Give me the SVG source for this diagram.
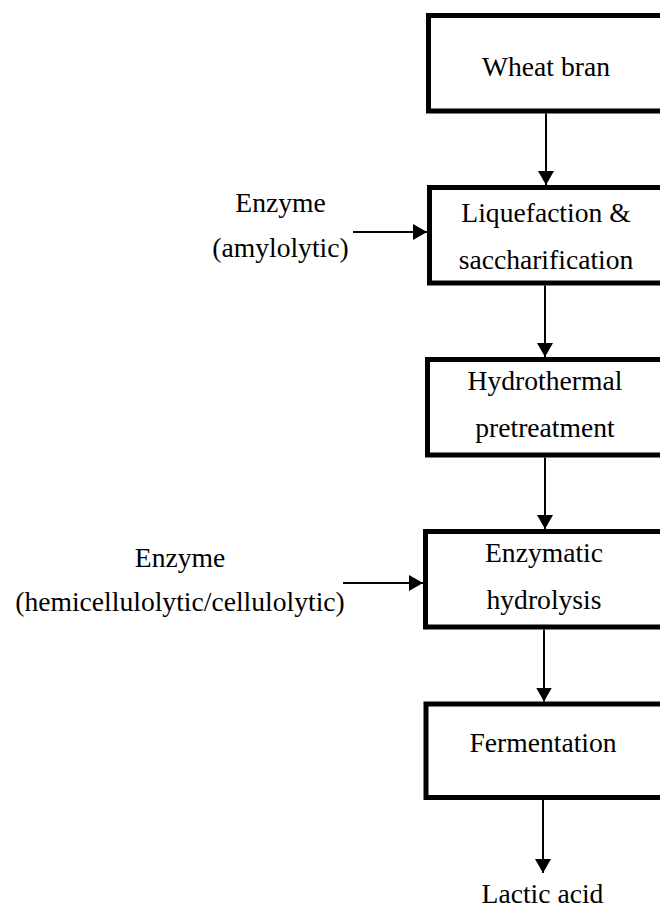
<svg xmlns="http://www.w3.org/2000/svg" width="660" height="909" viewBox="0 0 660 909">
  <style>
    .box { fill: #ffffff; stroke: #000000; stroke-width: 5; }
    .lbl { font-family: "Liberation Serif", "Times New Roman", serif; font-size: 27.6px; fill: #000000; text-anchor: middle; }
    .conn { stroke: #000000; stroke-width: 2; fill: none; marker-end: url(#arrow); }
  </style>
  <defs>
    <marker id="arrow" markerUnits="userSpaceOnUse" markerWidth="14" markerHeight="16" refX="14" refY="8" orient="auto">
      <path d="M0,0 L14,8 L0,16 Z" fill="#000000"/>
    </marker>
  </defs>
  <rect width="660" height="909" fill="#ffffff"/>

  <!-- process steps (boxes run past the right edge) -->
  <g id="wheat-bran">
    <rect class="box" x="428.5" y="15.5" width="300" height="95.5"/>
    <text class="lbl" x="546" y="76">Wheat bran</text>
  </g>
  <g id="liquefaction">
    <rect class="box" x="429.5" y="187.5" width="300" height="95.5"/>
    <text class="lbl" x="546" y="222">Liquefaction &amp;</text>
    <text class="lbl" x="546" y="269">saccharification</text>
  </g>
  <g id="pretreatment">
    <rect class="box" x="427.5" y="359.5" width="300" height="95.5"/>
    <text class="lbl" x="545" y="390">Hydrothermal</text>
    <text class="lbl" x="545" y="437">pretreatment</text>
  </g>
  <g id="hydrolysis">
    <rect class="box" x="425.5" y="531.5" width="300" height="95.5"/>
    <text class="lbl" x="544" y="562">Enzymatic</text>
    <text class="lbl" x="544" y="609">hydrolysis</text>
  </g>
  <g id="fermentation">
    <rect class="box" x="426" y="704" width="300" height="93.5"/>
    <text class="lbl" x="543" y="752">Fermentation</text>
  </g>

  <!-- inputs and product -->
  <g id="enzyme-amylolytic">
    <text class="lbl" x="280.5" y="212">Enzyme</text>
    <text class="lbl" x="280.5" y="257">(amylolytic)</text>
  </g>
  <g id="enzyme-cellulolytic">
    <text class="lbl" x="180" y="567">Enzyme</text>
    <text class="lbl" x="180" y="611">(hemicellulolytic/cellulolytic)</text>
  </g>
  <g id="lactic-acid">
    <text class="lbl" x="542.5" y="903">Lactic acid</text>
  </g>

  <!-- connectors -->
  <g id="connectors">
    <line class="conn" x1="546" y1="113.5" x2="546" y2="185"/>
    <line class="conn" x1="545" y1="285.5" x2="545" y2="357"/>
    <line class="conn" x1="545" y1="457.5" x2="545" y2="529"/>
    <line class="conn" x1="544" y1="629.5" x2="544" y2="701.5"/>
    <line class="conn" x1="543" y1="800" x2="543" y2="873"/>
    <line class="conn" x1="353" y1="232" x2="427" y2="232"/>
    <line class="conn" x1="343" y1="583" x2="423" y2="583"/>
  </g>
</svg>
